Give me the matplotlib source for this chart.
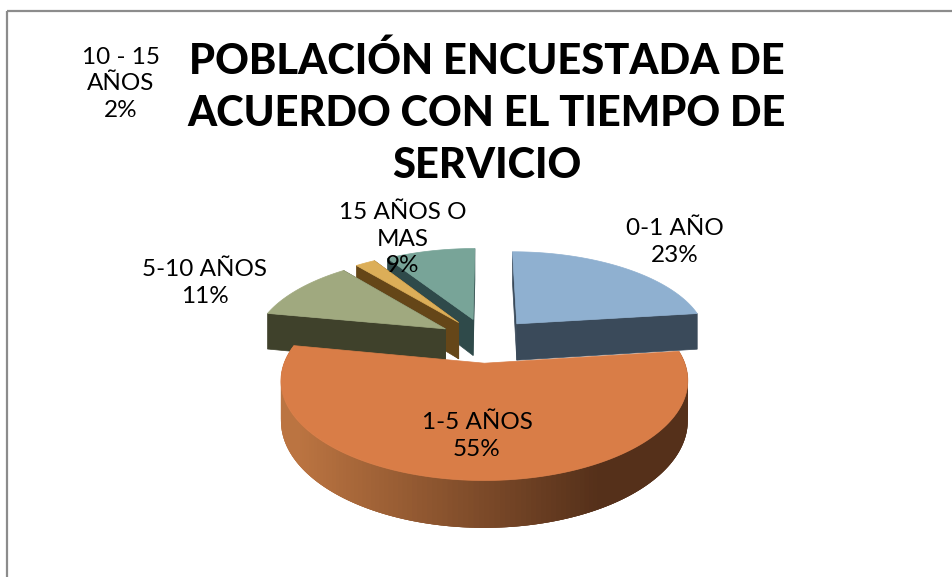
import numpy as np
import matplotlib
matplotlib.use("Agg")
import matplotlib.pyplot as plt
from matplotlib.colors import to_rgb
from matplotlib.patches import Polygon, Rectangle

# datos del grafico
categorias = ['0-1 AÑO', '1-5 AÑOS', '5-10 AÑOS', '10 - 15\nAÑOS', '15 AÑOS O\nMAS']
valores = [23, 55, 11, 2, 9]

colores_top = ['#8fb0d0', '#d97d47', '#a0a97f', '#dcae58', '#78a498']
colores_lado = ['#3a4a5a', '#7a4526', '#3f412b', '#654618', '#2f4a4a']
pos_etiquetas = [(675, 242), (477, 436), (205, 283), (121, 84), (403, 239)]

# geometria del pastel en perspectiva
cx, cy = 486, 340
rx, ry = 192, 89
prof = 6.0
altura = 37.5
explosion = 0.25


def proyectar(X, Y, z=0.0):
    s = prof / (prof + Y)
    return cx + X * rx * s, cy - Y * ry * s + z * altura * s


def borde(ang, ex, ey):
    return ex + np.sin(ang), ey + np.cos(ang)


fig = plt.figure(figsize=(9.53, 5.77), dpi=100)
ax = fig.add_axes([0, 0, 1, 1])
ax.set_xlim(0, 953)
ax.set_ylim(577, 0)
ax.axis('off')

# marco gris del grafico
ax.add_patch(Rectangle((7, 11), 960, 580, fill=False, edgecolor='#8c8c8c', linewidth=1.6))

total = sum(valores)
limites = np.radians(np.cumsum([0] + valores) / total * 360)

# orden de dibujo: de atras hacia adelante
for i in [4, 3, 2, 0, 1]:
    a0, a1 = limites[i], limites[i + 1]
    media = (a0 + a1) / 2
    ex, ey = explosion * np.sin(media), explosion * np.cos(media)
    angs = np.linspace(a0, a1, 160)
    bx, by = borde(angs, ex, ey)

    if i == 1:
        # cara exterior con degradado, de derecha a izquierda y con traslape
        c_izq = np.array(to_rgb('#bb7441'))
        c_der = np.array(to_rgb('#55301a'))
        for j in range(len(angs) - 1):
            k = min(j + 3, len(angs) - 1)
            x0, y0 = proyectar(bx[j], by[j])
            x1, y1 = proyectar(bx[k], by[k])
            x2, y2 = proyectar(bx[k], by[k], 1)
            x3, y3 = proyectar(bx[j], by[j], 1)
            t = np.clip((x0 - 300) / 300, 0, 1)
            col = c_izq * (1 - t) + c_der * t
            ax.add_patch(Polygon([(x0, y0), (x1, y1), (x2, y2), (x3, y3)],
                                 facecolor=col, edgecolor='none'))
    else:
        # caras de corte
        for a in [a0, a1]:
            qx, qy = borde(a, ex, ey)
            cara = [proyectar(ex, ey), proyectar(qx, qy),
                    proyectar(qx, qy, 1), proyectar(ex, ey, 1)]
            ax.add_patch(Polygon(cara, facecolor=colores_lado[i], edgecolor=colores_lado[i], linewidth=0.5))

    # superficie superior
    arco = [proyectar(x, y) for x, y in zip(bx, by)]
    tapa = [proyectar(ex, ey)] + arco
    ax.add_patch(Polygon(tapa, facecolor=colores_top[i], edgecolor=colores_top[i], linewidth=0.5))

# etiquetas
for nombre, v, (x, y) in zip(categorias, valores, pos_etiquetas):
    ax.text(x, y, f'{nombre}\n{v}%', ha='center', va='center', fontsize=17.5,
            family='Lato', color='black', linespacing=1.31)

# titulo
ax.text(487, 113, 'POBLACIÓN ENCUESTADA DE\nACUERDO CON EL TIEMPO DE\nSERVICIO',
        ha='center', va='center', fontsize=30, fontweight='black', family='Lato',
        color='black', linespacing=1.45)

fig.savefig('out.png', dpi=100)
